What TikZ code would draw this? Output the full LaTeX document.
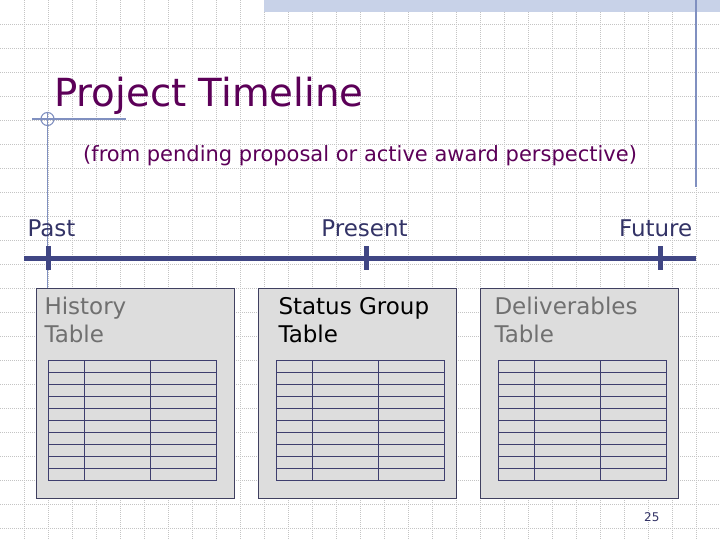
\documentclass[tikz,border=0pt]{standalone}
\usepackage{fontspec}
\setmainfont{DejaVu Sans}
\usetikzlibrary{positioning}
\definecolor{titlepurple}{RGB}{92,0,88}
\definecolor{linenavy}{RGB}{64,70,132}
\definecolor{labelnavy}{RGB}{51,51,102}
\definecolor{boxgray}{RGB}{221,221,221}
\definecolor{boxedge}{RGB}{64,64,96}
\definecolor{tablenavy}{RGB}{62,62,110}
\definecolor{textgray}{RGB}{112,112,112}
\definecolor{gridgray}{RGB}{196,196,196}
\definecolor{bandblue}{RGB}{200,210,232}
\definecolor{thinblue}{RGB}{128,144,192}

\begin{document}
\begin{tikzpicture}[x=1pt,y=-1pt]
        \tikzset{grid_line/.style = {color=gridgray,line width=0.7pt,dash pattern=on 1pt off 1pt}}
        \tikzset{deco_line/.style = {color=thinblue,line width=1.1pt}}
        \tikzset{time_line/.style = {color=linenavy,line width=5pt}}
        \tikzset{tick_line/.style = {color=linenavy,line width=5pt}}
        \tikzset{era_label/.style = {text=labelnavy,inner sep=0,font=\fontsize{23}{28}\selectfont}}
        \tikzset{table_box/.style = {draw=boxedge,fill=boxgray,line width=0.9pt,anchor=north west,minimum width=198,minimum height=210,inner sep=0}}
        \tikzset{box_text/.style = {inner sep=0,anchor=north west,align=left,font=\fontsize{23}{28}\selectfont}}
        \tikzset{table_line/.style = {color=tablenavy,line width=1.2pt}}

        \useasboundingbox (0,0) rectangle (720,540);
        % dotted background grid
        \foreach \gx in {24,48,...,696} \draw[grid_line] (\gx,0) -- (\gx,540);
        \foreach \gy in {24,48,...,528} \draw[grid_line] (0,\gy) -- (720,\gy);
        \fill[bandblue] (264,0) rectangle (720,12);
        \draw[deco_line] (696,0) -- (696,187);

        % title corner
        \coordinate (corner) at (47.5,119);
        \draw[deco_line] (32,119) -- (126,119);
        \draw[deco_line] (47.5,112) -- (47.5,288);
        \draw[deco_line] (corner) circle (6.5);

        \node[inner sep=0,anchor=base west,text=titlepurple,font=\fontsize{38.7}{40}\selectfont] (title) at (54,107) {Project Timeline};
        \node[inner sep=0,anchor=base west,text=titlepurple,font=\fontsize{21}{24}\selectfont] (subtitle) at (83,162) {(from pending proposal or active award perspective)};

        % timeline
        \coordinate (line_start) at (24,258.5);
        \coordinate (line_end) at (696,258.5);
        \draw[time_line] (line_start) -- (line_end);
        \foreach \tx/\tn in {48.5/past,366.5/present,660/future} {
            \coordinate (\tn_top) at (\tx,246);
            \coordinate (\tn_bot) at (\tx,270);
            \draw[tick_line] (\tn_top) -- (\tn_bot);
        }
        \node[era_label,anchor=base] (past) at (51.5,236.5) {Past};
        \node[era_label,anchor=base] (present) at (364.5,236.5) {Present};
        \node[era_label,anchor=base] (future) at (655.7,236.5) {Future};

        % the three tables
        \node[table_box] (history) at (36,288) {};
        \node[table_box] (status) at (258,288) {};
        \node[table_box] (deliver) at (480,288) {};
        \node[box_text,text=textgray] (history_text) at (44.3,297) {History\\Table};
        \node[box_text,text=black] (status_text) at (278.3,297) {Status Group\\Table};
        \node[box_text,text=textgray] (deliver_text) at (494.3,297) {Deliverables\\Table};

        \foreach \lx in {48.3,276.3,498.3} {
            \draw[table_line] (\lx,360.3) rectangle ++(168,120);
            \foreach \rw in {1,...,9} \draw[table_line] (\lx,360.3+12*\rw) -- ++(168,0);
            \draw[table_line] (\lx+36,360.3) -- ++(0,120);
            \draw[table_line] (\lx+102,360.3) -- ++(0,120);
        }

        \node[inner sep=0,anchor=base west,text=labelnavy,font=\fontsize{12}{14}\selectfont] (page) at (644,521.7) {25};
    \end{tikzpicture}
\end{document}
